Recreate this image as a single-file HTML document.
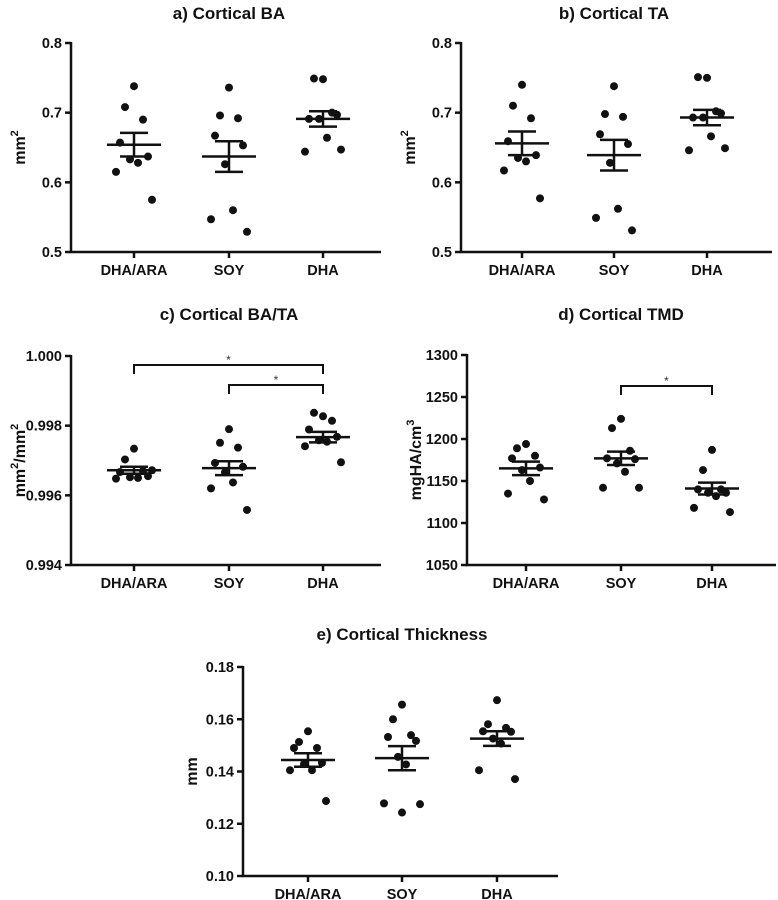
<!DOCTYPE html>
<html><head><meta charset="utf-8"><style>
html,body{margin:0;padding:0;background:#fff;}
svg{display:block;font-family:"Liberation Sans",Arial,sans-serif;}
</style></head><body>
<svg id="fig" width="778" height="900" viewBox="0 0 778 900"></svg>
<script>
const categories = ["DHA/ARA","SOY","DHA"];
// panel a
const aTicks = ["0.5","0.6","0.7","0.8"];
const aDhaAra = [0.738,0.708,0.690,0.657,0.637,0.633,0.628,0.615,0.575];
const aSoy = [0.736,0.696,0.692,0.667,0.653,0.626,0.560,0.547,0.529];
const aDha = [0.748,0.749,0.700,0.691,0.697,0.691,0.664,0.644,0.647];
const aMean = [0.654,0.637,0.691];
const aSem = [0.017,0.022,0.011];
// panel b
const bTicks = ["0.5","0.6","0.7","0.8"];
const bDhaAra = [0.740,0.710,0.692,0.659,0.639,0.635,0.630,0.617,0.577];
const bSoy = [0.738,0.698,0.694,0.669,0.655,0.628,0.562,0.549,0.531];
const bDha = [0.750,0.751,0.702,0.693,0.699,0.693,0.666,0.646,0.649];
const bMean = [0.656,0.639,0.693];
const bSem = [0.017,0.022,0.011];
// panel c
const cTicks = ["0.994","0.996","0.998","1.000"];
const cDhaAra = [0.99734,0.99703,0.99670,0.99667,0.99655,0.99652,0.99650,0.99648,0.99672];
const cSoy = [0.99790,0.99751,0.99737,0.99693,0.99682,0.99666,0.99637,0.99620,0.99558];
const cDha = [0.99827,0.99837,0.99814,0.99789,0.99768,0.99758,0.99754,0.99741,0.99695];
const cMean = [0.99672,0.99678,0.99767];
const cSem = [0.00010,0.00020,0.00015];
// panel d
const dTicks = ["1050","1100","1150","1200","1250","1300"];
const dDhaAra = [1194,1189,1180,1177,1166,1163,1150,1135,1128];
const dSoy = [1224,1213,1186,1177,1176,1171,1161,1142,1142];
const dDha = [1187,1163,1140,1140,1136,1136,1132,1118,1113];
const dMean = [1165,1177,1141];
const dSem = [8,8,7];
// panel e
const eTicks = ["0.10","0.12","0.14","0.16","0.18"];
const eDhaAra = [0.1554,0.1513,0.1490,0.1490,0.1433,0.1428,0.1405,0.1405,0.1287];
const eSoy = [0.1656,0.1600,0.1539,0.1532,0.1517,0.1456,0.1427,0.1278,0.1275,0.1243];
const eDha = [0.1673,0.1581,0.1567,0.1554,0.1552,0.1526,0.1507,0.1405,0.1371];
const eMean = [0.1444,0.1451,0.1526];
const eSem = [0.0026,0.0046,0.0028];

const NS="http://www.w3.org/2000/svg";
const svg=document.getElementById('fig');
function mk(tag,attrs,parent,text){const e=document.createElementNS(NS,tag);for(const k in attrs)e.setAttribute(k,attrs[k]);if(text!==undefined)e.textContent=text;(parent||svg).appendChild(e);return e;}
const jit=[0,-9,9,-14,14,-4,4,-18,18,0];

function panel(cfg){
  const g=mk('g',{});
  
  
  const min=parseFloat(cfg.ticks[0]),max=parseFloat(cfg.ticks[cfg.ticks.length-1]);
  const y=v=>cfg.y1-(v-min)/(max-min)*(cfg.y1-cfg.y0);
  const t=mk('text',{x:cfg.tx,y:cfg.ty,'text-anchor':'middle','font-size':17,'font-weight':'bold',fill:'#111'},g,cfg.title);
  
  
  const yl=mk('text',{x:0,y:0,transform:`translate(${cfg.ax-46},${(cfg.y0+cfg.y1)/2}) rotate(-90)`,'text-anchor':'middle','font-size':16,'font-weight':'bold',fill:'#111'},g);
  
  
  yl.innerHTML=cfg.ylab;
  const ax=mk('path',{d:`M${cfg.ax},${cfg.y0-1} V${cfg.y1} H${cfg.axEnd}`,stroke:'#111','stroke-width':2.5,fill:'none'},g);
  
  
  cfg.ticks.forEach(tk=>{const yy=y(parseFloat(tk));
    mk('line',{x1:cfg.ax-6,x2:cfg.ax,y1:yy,y2:yy,stroke:'#111','stroke-width':2.5},g);
    const l=mk('text',{x:cfg.ax-9,y:yy+5,'text-anchor':'end','font-size':14.5,'font-weight':'bold',fill:'#111'},g,tk);
    
    
  });
  cfg.series.forEach((vals,i)=>{
    const cx=cfg.cx[i];
    mk('line',{x1:cx,x2:cx,y1:cfg.y1,y2:cfg.y1+6,stroke:'#111','stroke-width':2.5},g);
    const l=mk('text',{x:cx,y:cfg.y1+23,'text-anchor':'middle','font-size':14.5,'font-weight':'bold',fill:'#111'},g,categories[i]);
    
    
    vals.forEach((v,j)=>{
      const c=mk('circle',{cx:cx+jit[j%jit.length],cy:y(v),r:4,fill:'#111'},g);
      
      
    });
    const m=cfg.mean[i],s=cfg.sem[i];
    const ml=mk('line',{x1:cx-27,x2:cx+27,y1:y(m),y2:y(m),stroke:'#111','stroke-width':2.5},g);
    
    
    const eb=mk('path',{d:`M${cx-14},${y(m+s)} H${cx+14} M${cx},${y(m+s)} V${y(m-s)} M${cx-14},${y(m-s)} H${cx+14}`,stroke:'#111','stroke-width':2.5,fill:'none'},g);
    
    
  });
  (cfg.sig||[]).forEach(sg=>{
    const x1=cfg.cx[sg[0]],x2=cfg.cx[sg[1]],yy=sg[2];
    const b=mk('path',{d:`M${x1},${yy+9} V${yy} H${x2} V${yy+9}`,stroke:'#111','stroke-width':2,fill:'none'},g);
    
    
    const a=mk('text',{x:(x1+x2)/2,y:yy-1,'text-anchor':'middle','font-size':12,fill:'#333'},g,'*');
    
    
  });
}
panel({name:'panel-a-cortical-ba',title:'a) Cortical BA',tx:229,ty:19,ax:71,axEnd:381,y0:43,y1:252,cx:[134,229,323],ticks:aTicks,series:[aDhaAra,aSoy,aDha],mean:aMean,sem:aSem,ylab:'mm<tspan font-size="11" dy="-7">2</tspan>'});
panel({name:'panel-b-cortical-ta',title:'b) Cortical TA',tx:614,ty:19,ax:461,axEnd:772,y0:43,y1:252,cx:[522,614,707],ticks:bTicks,series:[bDhaAra,bSoy,bDha],mean:bMean,sem:bSem,ylab:'mm<tspan font-size="11" dy="-7">2</tspan>'});
panel({name:'panel-c-cortical-ba-ta',title:'c) Cortical BA/TA',tx:229,ty:320,ax:71,axEnd:381,y0:356,y1:565,cx:[134,229,323],ticks:cTicks,series:[cDhaAra,cSoy,cDha],mean:cMean,sem:cSem,sig:[[0,2,365],[1,2,385]],ylab:'mm<tspan font-size="11" dy="-7">2</tspan><tspan dy="7">/mm</tspan><tspan font-size="11" dy="-7">2</tspan>'});
panel({name:'panel-d-cortical-tmd',title:'d) Cortical TMD',tx:621,ty:320,ax:467,axEnd:776,y0:355,y1:565,cx:[526,621,712],ticks:dTicks,series:[dDhaAra,dSoy,dDha],mean:dMean,sem:dSem,sig:[[1,2,386]],ylab:'mgHA/cm<tspan font-size="11" dy="-7">3</tspan>'});
panel({name:'panel-e-cortical-thickness',title:'e) Cortical Thickness',tx:402,ty:640,ax:243,axEnd:558,y0:667,y1:876,cx:[308,402,497],ticks:eTicks,series:[eDhaAra,eSoy,eDha],mean:eMean,sem:eSem,ylab:'mm'});
</script>
</body></html>
